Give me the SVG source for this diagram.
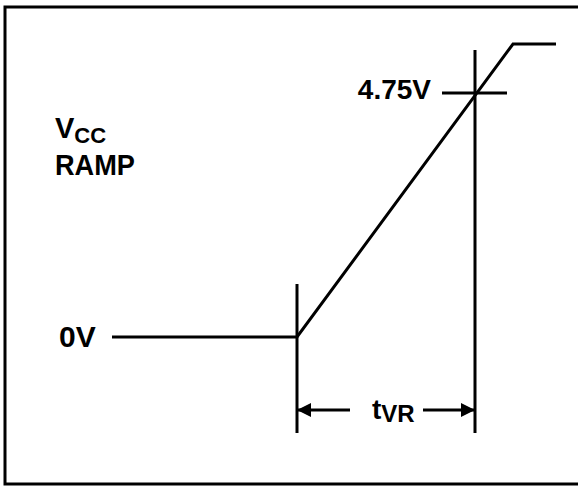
<svg xmlns="http://www.w3.org/2000/svg" width="578" height="487" viewBox="0 0 578 487">
<defs>
<style>
.ln{stroke:#000;stroke-width:3;fill:none;stroke-linecap:butt}
.tx{font-family:"Liberation Sans",Arial,sans-serif;font-weight:bold;fill:#000}
</style>
<marker id="ah" viewBox="0 0 10 10" refX="10" refY="5" markerWidth="28" markerHeight="14" markerUnits="userSpaceOnUse" orient="auto">
<path d="M0,0 L10,5 L0,10 Z" fill="#000"/>
</marker>
</defs>
<rect x="0" y="0" width="578" height="487" fill="#fff"/>
<rect id="frame" x="5" y="7" width="580" height="477" fill="none" stroke="#000" stroke-width="3"/>
<g id="labels">
<g id="vcc"><text class="tx" x="55" y="138" font-size="29">V<tspan font-size="22" dy="5">CC</tspan></text></g>
<g id="ramp"><text class="tx" x="55" y="175" font-size="29" textLength="80" lengthAdjust="spacingAndGlyphs">RAMP</text></g>
<g id="zero"><text class="tx" x="59" y="347" font-size="30">0V</text></g>
<g id="v475"><text class="tx" x="431" y="99" font-size="28" text-anchor="end">4.75V</text></g>
<g id="tvr"><text class="tx" x="372" y="419" font-size="28">t<tspan font-size="24" dy="3">VR</tspan></text></g>
</g>
<g id="connectors">
<path class="ln" d="M112,337 H297 L513,44 H556"/>
<path class="ln" d="M297,284 V433"/>
<path class="ln" d="M475,50 V433"/>
<path class="ln" d="M442,93 H507"/>
<path class="ln" d="M350,410 H297" marker-end="url(#ah)"/>
<path class="ln" d="M423,410 H475" marker-end="url(#ah)"/>
</g>
</svg>
